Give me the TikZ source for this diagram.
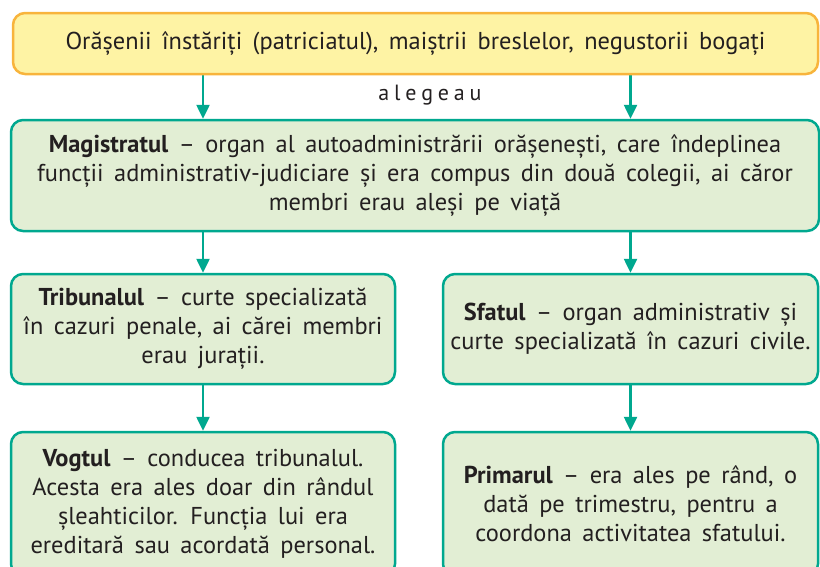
\documentclass[tikz,border=0pt]{standalone}
\usepackage{fontspec}
\setmainfont[WordSpace={1.6}]{PT Sans}
\usetikzlibrary{arrows.meta}
\pgfdeclarelayer{edgelayer}
\pgfdeclarelayer{nodelayer}
\pgfsetlayers{edgelayer,nodelayer,main}
\definecolor{tealline}{HTML}{00A88F}
\definecolor{greenfill}{HTML}{E2EED4}
\definecolor{yellowfill}{HTML}{FEF3A4}
\definecolor{orangeline}{HTML}{F8B43C}
\definecolor{inktext}{HTML}{231F20}
\tikzstyle{greenbox}=[rectangle, rounded corners=12pt, draw=tealline, line width=2.5pt, fill=greenfill, align=center, inner sep=0pt, text=inktext, font=\fontsize{24.4}{29}\selectfont]
\tikzstyle{yellowbox}=[rectangle, rounded corners=12pt, draw=orangeline, line width=2.5pt, fill=yellowfill, align=center, inner sep=0pt, text=inktext, font=\fontsize{24.4}{29}\selectfont]
\tikzstyle{arrow}=[draw=tealline, line width=2.5pt, -{Triangle[width=13pt,length=14pt]}]

\begin{document}
\begin{tikzpicture}[x=1pt, y=-1pt]
	\clip (0,0) rectangle (820,566);
	\begin{pgfonlayer}{nodelayer}
		\node [style=yellowbox, minimum width=805pt, minimum height=61pt] (top) at (415.5, 43.5) {Orășenii înstăriți (patriciatul), maiștrii breslelor, negustorii bogați};
		\node [text=inktext, font=\fontsize{22}{26}\selectfont\addfontfeatures{LetterSpace=22}] (aleg) at (430, 95) {alegeau};
		\node [style=greenbox, minimum width=808pt, minimum height=111pt] (mag) at (415, 175.5) {\textbf{Magistratul} – organ al autoadministrării orășenești, care îndeplinea\\ funcții administrativ-judiciare și era compus din două colegii, ai căror\\ membri erau aleși pe viață};
		\node [style=greenbox, minimum width=384pt, minimum height=110pt] (trib) at (203, 329) {\textbf{Tribunalul} – curte specializată\\ în cazuri penale, ai cărei membri\\ erau jurații.};
		\node [style=greenbox, minimum width=375pt, minimum height=110pt] (sfat) at (630.5, 329) {\textbf{Sfatul} – organ administrativ și\\ curte specializată în cazuri civile.};
		\node [style=greenbox, minimum width=384pt, minimum height=144pt] (vogt) at (203, 504) {\textbf{Vogtul} – conducea tribunalul.\\ Acesta era ales doar din rândul\\ șleahticilor. Funcția lui era\\ ereditară sau acordată personal.};
		\node [style=greenbox, minimum width=375pt, minimum height=144pt] (prim) at (630.5, 504) {\textbf{Primarul} – era ales pe rând, o\\ dată pe trimestru, pentru a\\ coordona activitatea sfatului.};
	\end{pgfonlayer}
	\begin{pgfonlayer}{edgelayer}
		\draw [style=arrow] (top.south -| trib.north) to (mag.north -| trib.north);
		\draw [style=arrow] (top.south -| sfat.north) to (mag.north -| sfat.north);
		\draw [style=arrow] (mag.south -| trib.north) to (trib.north);
		\draw [style=arrow] (mag.south -| sfat.north) to (sfat.north);
		\draw [style=arrow] (trib.south) to (vogt.north);
		\draw [style=arrow] (sfat.south) to (prim.north);
	\end{pgfonlayer}
\end{tikzpicture}
\end{document}
